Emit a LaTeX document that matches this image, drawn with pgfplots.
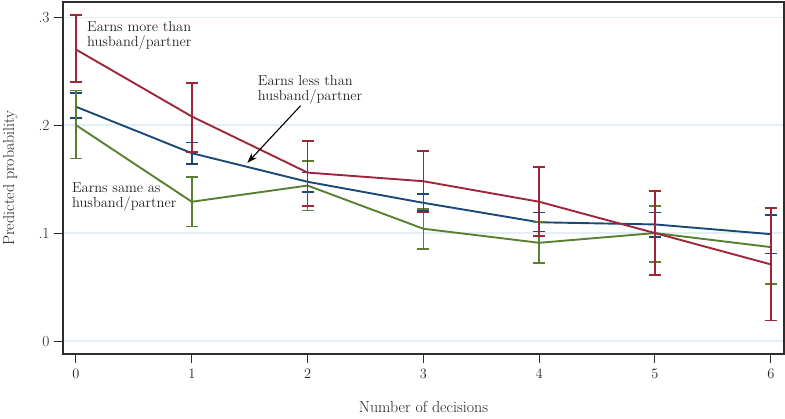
\documentclass[border=0pt]{standalone}
\usepackage{pgfplots}
\pgfplotsset{compat=1.18}
\usepackage{pgfplotstable}
\usetikzlibrary{arrows.meta}
\definecolor{cred}{RGB}{158,38,58}
\definecolor{cblue}{RGB}{26,72,120}
\definecolor{cgreen}{RGB}{88,128,48}
\definecolor{cgrid}{RGB}{226,240,245}
\definecolor{cframe}{RGB}{45,45,45}
\definecolor{ctext}{RGB}{35,35,35}

% predicted values with lower and upper confidence limits
\pgfplotstableread{
x y lo hi
0 0.270 0.240 0.302
1 0.208 0.175 0.239
2 0.156 0.125 0.185
3 0.148 0.119 0.176
4 0.129 0.097 0.161
5 0.100 0.061 0.139
6 0.071 0.019 0.123
}\tmore
\pgfplotstableread{
x y lo hi
0 0.217 0.2065 0.2295
1 0.174 0.164 0.184
2 0.1475 0.138 0.156
3 0.128 0.1205 0.136
4 0.110 0.1015 0.119
5 0.108 0.0965 0.119
6 0.099 0.081 0.117
}\tless
\pgfplotstableread{
x y lo hi
0 0.200 0.169 0.232
1 0.129 0.106 0.152
2 0.144 0.121 0.167
3 0.104 0.0855 0.1225
4 0.091 0.072 0.110
5 0.100 0.0735 0.125
6 0.087 0.053 0.123
}\tsame

\pgfplotsset{
  ebar/.style={
    error bars/.cd, y dir=both, y explicit,
    error bar style={line width=1.7bp, draw=#1, solid},
    error mark options={rotate=90, mark size=6bp, line width=1.7bp, draw=#1, solid},
  },
}

\begin{document}
\begin{tikzpicture}
\begin{axis}[
  scale only axis,
  width=721bp, height=352bp,
  xmin=-0.112, xmax=6.114,
  ymin=-0.012, ymax=0.314,
  xtick={0,1,2,3,4,5,6},
  ytick={0,0.1,0.2,0.3},
  yticklabels={0,.1,.2,.3},
  tick align=outside,
  xtick pos=bottom, ytick pos=left,
  major tick length=9bp,
  tick style={cframe, line width=1bp},
  ymajorgrids,
  grid style={cgrid, line width=1.2bp},
  axis line style={cframe, line width=1.2bp},
  ticklabel style={font=\fontsize{15.5}{18}\selectfont, text=ctext},
  xticklabel style={yshift=-3bp},
  yticklabel style={xshift=-1bp},
  xlabel={Number of decisions},
  ylabel={Predicted probability},
  label style={font=\fontsize{16}{19}\selectfont, text=ctext},
  xlabel style={at={(axis description cs:0.5,0)}, anchor=north, yshift=-44bp},
  ylabel style={at={(axis description cs:0,0.5)}, anchor=south, yshift=42bp},
  clip=false,
]
\addplot[cblue, line width=1.9bp, no marks, ebar=cblue]
  table[x=x, y=y, y error plus expr=\thisrow{hi}-\thisrow{y}, y error minus expr=\thisrow{y}-\thisrow{lo}] {\tless};
\addplot[cgreen, line width=1.9bp, no marks, ebar=cgreen]
  table[x=x, y=y, y error plus expr=\thisrow{hi}-\thisrow{y}, y error minus expr=\thisrow{y}-\thisrow{lo}] {\tsame};
\addplot[cred, line width=1.9bp, no marks, ebar=cred]
  table[x=x, y=y, y error plus expr=\thisrow{hi}-\thisrow{y}, y error minus expr=\thisrow{y}-\thisrow{lo}] {\tmore};

\node[anchor=west, align=left, font=\fontsize{14.5}{15}\selectfont, text=ctext, inner sep=0pt]
  at (axis cs:0.095,0.2825) {Earns more than\\husband/partner};
\node[anchor=west, align=left, font=\fontsize{14.5}{15}\selectfont, text=ctext, inner sep=0pt]
  at (axis cs:1.57,0.233) {Earns less than\\husband/partner};
\node[anchor=west, align=left, font=\fontsize{14.5}{15}\selectfont, text=ctext, inner sep=0pt]
  at (axis cs:-0.035,0.1335) {Earns same as\\husband/partner};
\draw[-{Stealth[length=10bp,width=7bp]}, line width=1.1bp, black]
  (axis cs:1.94,0.218) -- (axis cs:1.48,0.165);
\end{axis}
\pgfresetboundingbox
\path (current axis.south west) ++(-63bp,-65bp) rectangle ([shift={(1bp,2bp)}]current axis.north east);
\end{tikzpicture}
\end{document}
